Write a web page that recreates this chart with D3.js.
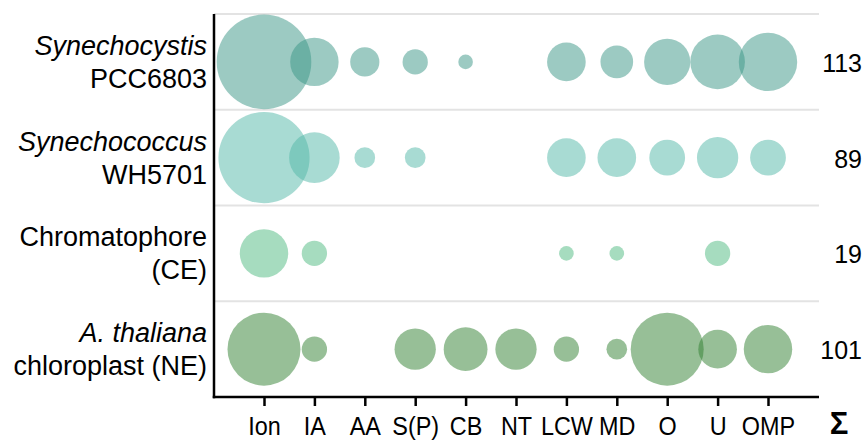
<!DOCTYPE html>
<html>
<head>
<meta charset="utf-8">
<script src="https://cdn.jsdelivr.net/npm/d3@7"></script>
<style>
  html, body { margin: 0; padding: 0; background: #fff; }
  svg { display: block; font-family: "Liberation Sans", Arial, sans-serif; }
</style>
</head>
<body>
<svg id="chart" width="868" height="441"></svg>
<script>
// Functional categories along the x axis
const categories = ["Ion", "IA", "AA", "S(P)", "CB", "NT", "LCW", "MD", "O", "U", "OMP"];

// Organisms / compartments (row labels: first line, second line)
const rowLine1 = ["Synechocystis", "Synechococcus", "Chromatophore", "A. thaliana"];
const rowLine2 = ["PCC6803", "WH5701", "(CE)", "chloroplast (NE)"];
const rowLine1Italic = [true, true, false, true];

// Counts per category for each row
const synechocystis = [42, 11, 4, 3, 1, 0, 7, 5, 10, 14, 16];
const synechococcus = [39, 12, 2, 2, 0, 0, 7, 7, 6, 8, 6];
const chromatophore = [11, 3, 0, 0, 0, 0, 1, 1, 0, 3, 0];
const thaliana      = [25, 3, 0, 8, 9, 8, 3, 2, 25, 7, 11];
const seriesValues = [synechocystis, synechococcus, chromatophore, thaliana];

// Row totals
const totals = [113, 89, 19, 101];

const rowColors = ["#399585", "#51b7a7", "#4db97f", "#2f7f2f"];

const svg = d3.select("#chart");

const axisX0 = 214, axisX1 = 819;
const plotTop = 14, plotBottom = 397;

const x = d3.scalePoint().domain(categories).range([264, 768]);
const y = d3.scaleBand().domain(d3.range(rowLine1.length)).range([plotTop, plotBottom]).paddingInner(0);
const maxVal = d3.max(seriesValues, s => d3.max(s));
const r = d3.scaleSqrt().domain([0, maxVal]).range([0, 7.3 * Math.sqrt(maxVal)]);

// Row separators
svg.append("g")
  .selectAll("line")
  .data(d3.range(rowLine1.length))
  .join("line")
  .attr("x1", axisX0).attr("x2", axisX1)
  .attr("y1", i => y(i)).attr("y2", i => y(i))
  .attr("stroke", "#e3e3e3")
  .attr("stroke-width", 2);

// Bubbles
const rows = svg.append("g")
  .selectAll("g")
  .data(seriesValues)
  .join("g")
  .attr("fill", (d, i) => rowColors[i])
  .attr("fill-opacity", 0.5);

rows.each(function(vals, i) {
  d3.select(this).selectAll("circle")
    .data(vals.map((v, j) => ({ v, cat: categories[j] })).filter(d => d.v > 0))
    .join("circle")
    .attr("cx", d => x(d.cat))
    .attr("cy", y(i) + y.bandwidth() / 2)
    .attr("r", d => r(d.v));
});

// Bottom axis
const xAxis = d3.axisBottom(x).tickSize(9).tickPadding(11);
const gx = svg.append("g")
  .attr("transform", `translate(0,${plotBottom})`)
  .call(xAxis);
gx.select(".domain").remove();
gx.selectAll(".tick line").attr("stroke", "#000").attr("stroke-width", 2.5);
gx.selectAll(".tick text")
  .attr("fill", "#000")
  .attr("font-size", 26)
  .attr("font-family", "'Liberation Sans', Arial, sans-serif")
  .attr("transform", "scale(0.9,1)")
  .attr("x", function() { return 0; });

svg.append("line")
  .attr("x1", axisX0 - 1.25).attr("x2", axisX1)
  .attr("y1", plotBottom).attr("y2", plotBottom)
  .attr("stroke", "#000").attr("stroke-width", 2.5);

// Left axis line
svg.append("line")
  .attr("x1", axisX0).attr("x2", axisX0)
  .attr("y1", plotTop).attr("y2", plotBottom + 1.25)
  .attr("stroke", "#000").attr("stroke-width", 2.5);

// Row labels
const labels = svg.append("g")
  .attr("text-anchor", "end")
  .attr("font-size", 27)
  .attr("fill", "#000");

d3.range(rowLine1.length).forEach(i => {
  const cy = y(i) + y.bandwidth() / 2;
  labels.append("text")
    .attr("x", 207).attr("y", cy - 7)
    .attr("font-style", rowLine1Italic[i] ? "italic" : "normal")
    .text(rowLine1[i]);
  labels.append("text")
    .attr("x", 207).attr("y", cy + 26)
    .text(rowLine2[i]);
});

// Totals
svg.append("g")
  .attr("text-anchor", "end")
  .attr("font-size", 25)
  .selectAll("text")
  .data(totals)
  .join("text")
  .attr("x", 862)
  .attr("y", (d, i) => y(i) + y.bandwidth() / 2 + 10)
  .text(d => d);

svg.append("text")
  .attr("x", 839).attr("y", 434)
  .attr("text-anchor", "middle")
  .attr("font-size", 31)
  .attr("font-weight", "bold")
  .text("Σ");
</script>
</body>
</html>
